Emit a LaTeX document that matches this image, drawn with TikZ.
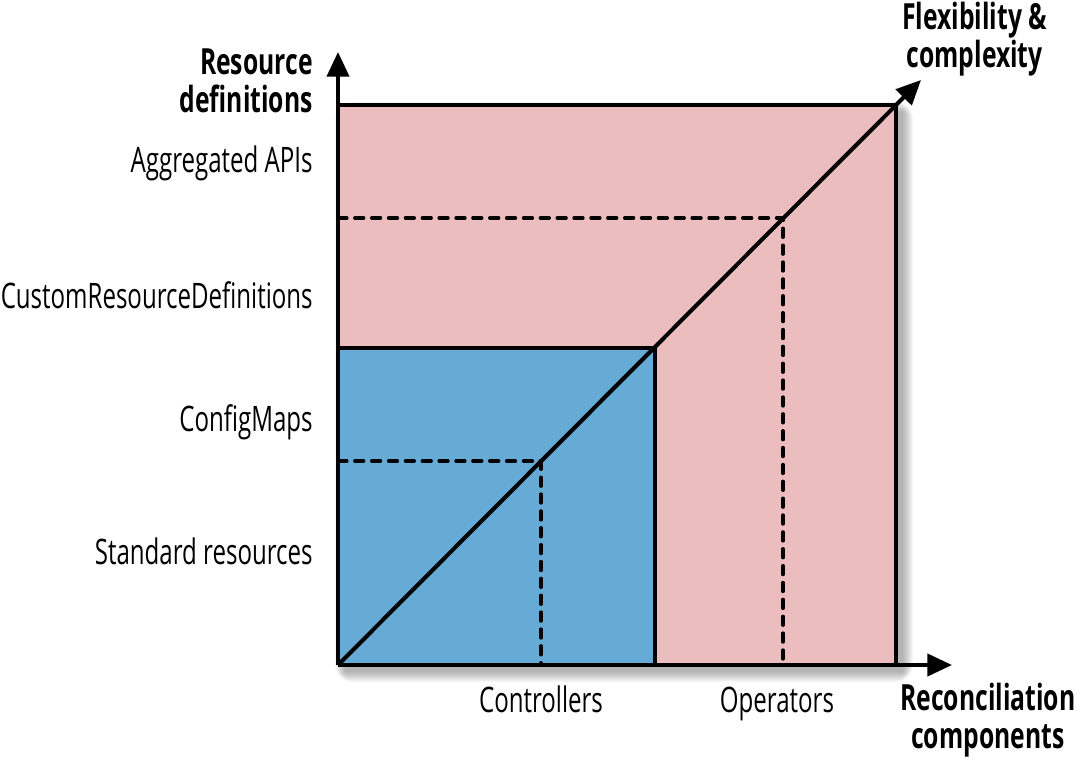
\documentclass[tikz,border=0pt]{standalone}
\usepackage{fontspec}
\setmainfont[FakeStretch=0.685]{Open Sans}
\usetikzlibrary{arrows.meta}
\definecolor{pinkfill}{RGB}{235,189,191}
\definecolor{bluefill}{RGB}{102,170,214}
\begin{document}
\begin{tikzpicture}[x=0.02cm,y=-0.02cm,
  edge/.style={line width=2.3pt,line join=miter},
  axis/.style={line width=2.3pt,-{Triangle[length=14pt,width=12.5pt]}},
  guide/.style={line width=2pt,line cap=round,dash pattern=on 5pt off 4.6pt},
  lbl/.style={font=\fontsize{20}{22}\selectfont,inner sep=0pt},
  blbl/.style={font=\fontsize{20.5}{21.5}\selectfont\bfseries,inner sep=0pt,align=right}]
\useasboundingbox (0,0) rectangle (1085,760);
% coordinates
\coordinate (O) at (338,665);
\coordinate (TL) at (338,105);
\coordinate (BR) at (896,665);
\coordinate (TR) at (896,105);
\coordinate (B1) at (655,348);
\coordinate (Ytip) at (338,52);
\coordinate (Xtip) at (952,665);
\coordinate (Dtip) at (921,80);
\coordinate (D1) at (783,218);
\coordinate (D1y) at (338,218);
\coordinate (D1x) at (783,665);
\coordinate (D2) at (541,461);
\coordinate (D2y) at (338,461);
\coordinate (D2x) at (541,665);
% shadow
\foreach \s in {0,...,10}
  \fill[black,opacity=0.03,rounded corners=\s pt] (345-\s,112-\s) rectangle (903+\s,672+\s);
% regions
\fill[pinkfill] (TL) rectangle (BR);
\fill[bluefill] (O) rectangle (B1);
% dashed guides
\draw[guide] (D1y) -- (D1) -- (D1x);
\draw[guide] (D2y) -- (D2) -- (D2x);
% outlines
\draw[edge] (TL) -- (TR) -- (BR);
\draw[edge] (O |- B1) -- (B1) -- (B1 |- O);
% diagonal
\draw[axis] (O) -- (Dtip);
% axes
\draw[axis] (O) -- (Ytip);
\draw[axis] (O) -- (Xtip);
% labels
\node[blbl,anchor=east] (ylab) at (313,81) {Resource\\definitions};
\node[lbl,anchor=east] (agg) at (313,163) {Aggregated APIs};
\node[lbl,anchor=east] (crd) at (313,295) {CustomResourceDefinitions};
\node[lbl,anchor=east] (cm) at (313,422) {ConfigMaps};
\node[lbl,anchor=east] (std) at (313,551) {Standard resources};
\node[lbl,anchor=base] (ctl) at (541,712) {Controllers};
\node[lbl,anchor=base] (ops) at (777,712) {Operators};
\node[blbl,anchor=west,align=center] (xlab) at (900,720) {Reconciliation\\components};
\node[blbl,anchor=west,align=center] (dlab) at (902,39) {Flexibility \&\\complexity};
\end{tikzpicture}
\end{document}
